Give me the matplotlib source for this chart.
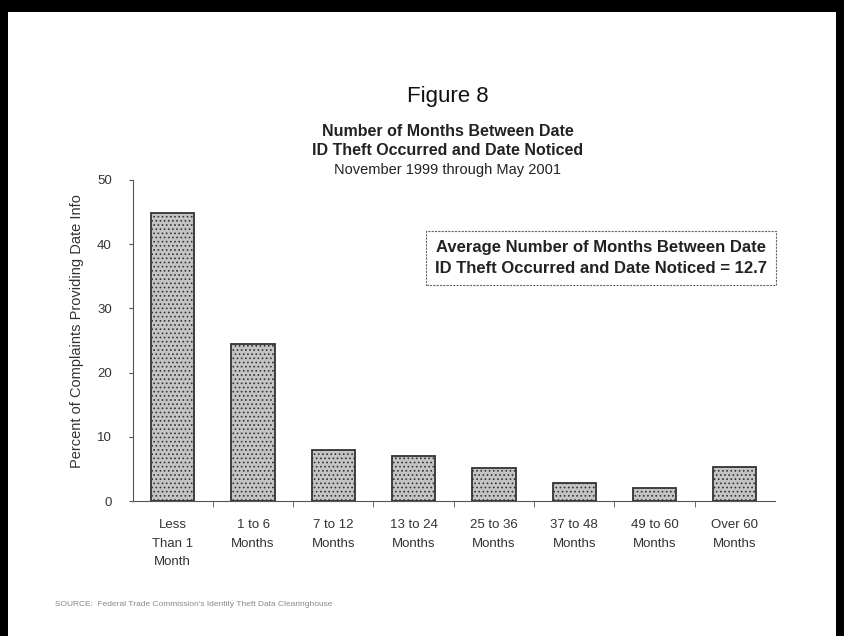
import matplotlib
matplotlib.use("Agg")
from matplotlib import pyplot as plt
from matplotlib.patches import Rectangle

# Adatok
categories = ["Less\nThan 1\nMonth", "1 to 6\nMonths", "7 to 12\nMonths", "13 to 24\nMonths",
              "25 to 36\nMonths", "37 to 48\nMonths", "49 to 60\nMonths", "Over 60\nMonths"]
percents = [44.8, 24.5, 8.0, 7.1, 5.2, 2.8, 2.1, 5.3]
yticks = [0, 10, 20, 30, 40, 50]
average_months = 12.7

plt.rcParams["font.family"] = ["Liberation Sans", "DejaVu Sans"]
plt.rcParams["hatch.color"] = "#4a4a4a"
plt.rcParams["hatch.linewidth"] = 0.7

fig = plt.figure(figsize=(8.45, 6.36), dpi=100)
ax = fig.add_axes([0.157, 0.212, 0.760, 0.505])

x = list(range(len(categories)))
ax.bar(x, percents, width=0.54, color="#c4c4c4", edgecolor="#333333",
       linewidth=1.3, hatch="....")

ax.set_xlim(-0.5, len(categories) - 0.5)
ax.set_ylim(0, 50)
ax.set_yticks(yticks)
ax.set_yticklabels([str(v) for v in yticks], fontsize=9.5, color="#333333")
ax.set_xticks(x)
ax.set_xticklabels(categories, fontsize=9.5, color="#333333", linespacing=1.7)
ax.tick_params(axis="x", length=0, pad=13)
ax.tick_params(axis="y", length=3, color="#555555", pad=12)
ax.set_xticks([i + 0.5 for i in x[:-1]], minor=True)
ax.tick_params(axis="x", which="minor", length=4, color="#555555")

for side in ["top", "right"]:
    ax.spines[side].set_visible(False)
for side in ["left", "bottom"]:
    ax.spines[side].set_linestyle((0, (2, 1)))
    ax.spines[side].set_color("#555555")
    ax.spines[side].set_linewidth(0.8)

ax.set_ylabel("Percent of Complaints Providing Date Info", fontsize=10.5,
              color="#333333")
ax.yaxis.set_label_coords(-0.075, 0.53)

# Átlag doboz
ax.text(0.711, 0.594,
        "Average Number of Months Between Date\n"
        "ID Theft Occurred and Date Noticed = " + str(average_months),
        transform=fig.transFigure, ha="center", va="center", fontsize=12,
        fontweight="bold", color="#222222", linespacing=1.5,
        bbox=dict(boxstyle="square,pad=0.55", facecolor="white",
                  edgecolor="#666666", linestyle=(0, (2, 1)), linewidth=0.8))

# Címek
fig.text(0.530, 0.849, "Figure 8", ha="center", va="center", fontsize=16, color="#111111")
fig.text(0.530, 0.793, "Number of Months Between Date", ha="center", va="center",
         fontsize=11.5, fontweight="bold", color="#222222")
fig.text(0.530, 0.763, "ID Theft Occurred and Date Noticed", ha="center", va="center",
         fontsize=11.5, fontweight="bold", color="#222222")
fig.text(0.530, 0.732, "November 1999 through May 2001", ha="center", va="center",
         fontsize=10.5, color="#222222")

fig.text(0.065, 0.049, "SOURCE:  Federal Trade Commission's Identity Theft Data Clearinghouse",
         ha="left", va="center", fontsize=6, color="#888888")

# Fekete keret
fig.patches.append(Rectangle((0, 1 - 12 / 636), 1, 12 / 636, transform=fig.transFigure,
                             facecolor="black", edgecolor="none"))
fig.patches.append(Rectangle((0, 0), 8 / 845, 1, transform=fig.transFigure,
                             facecolor="black", edgecolor="none"))
fig.patches.append(Rectangle((1 - 9 / 845, 0), 9 / 845, 1, transform=fig.transFigure,
                             facecolor="black", edgecolor="none"))

plt.savefig("out.png", dpi=100)
